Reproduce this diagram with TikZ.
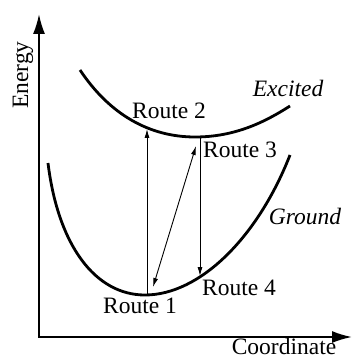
\documentclass[tikz,border=0pt]{standalone}
\usepackage{fontspec}
\setmainfont{Liberation Serif}
\usetikzlibrary{arrows.meta}
\begin{document}
\begin{tikzpicture}[x=1pt,y=-1pt,
  axis/.style={line width=2pt,-{Latex[length=20pt,width=12pt]}},
  curve/.style={line width=2.8pt},
  trans/.style={line width=0.9pt,-{Latex[length=9pt,width=5pt]}},
  lbl/.style={inner sep=0pt,font=\fontsize{23.5}{27}\selectfont},
  ilbl/.style={lbl,font=\fontsize{23.5}{27}\selectfont\itshape}]
\useasboundingbox (0,0) rectangle (353,358);
% axes
\coordinate (o) at (39,337);
\coordinate (ytip) at (39,14);
\coordinate (xtip) at (352,337);
\draw[axis] (o) -- (ytip);
\draw[axis] ([xshift=-1pt]o) -- (xtip);
\node[lbl,rotate=90] (energy) at (23,75) {Energy};
\node[lbl,anchor=base] (coord) at (284,354) {Coordinate};
% curves
\draw[curve] (80,70) .. controls (110,115) and (150,137) .. (195,137)
  .. controls (235,137) and (265,122) .. (290,106);
\draw[curve] (48,163) .. controls (58,245) and (95,295) .. (145,295)
  .. controls (200,295) and (258,237) .. (290,155);
% transition points
\coordinate (g1) at (147,294);
\coordinate (e2) at (147,129);
\coordinate (e3) at (200,137);
\coordinate (g4) at (200,276);
\coordinate (d1) at (153,287);
\coordinate (d2) at (196,146);
\draw[trans] (g1) -- (e2);
\draw[trans] (e3) -- (g4);
\draw[trans,{Latex[length=9pt,width=5pt]}-{Latex[length=9pt,width=5pt]}] (d1) -- (d2);
% labels
\node[lbl] (r1) at (140,305.5) {Route 1};
\node[lbl] (r2) at (169,110.5) {Route 2};
\node[lbl] (r3) at (240,150) {Route 3};
\node[lbl] (r4) at (239,287.5) {Route 4};
\node[ilbl] (exc) at (288,88.5) {Excited};
\node[ilbl] (gnd) at (305,216.5) {Ground};
\end{tikzpicture}
\end{document}
